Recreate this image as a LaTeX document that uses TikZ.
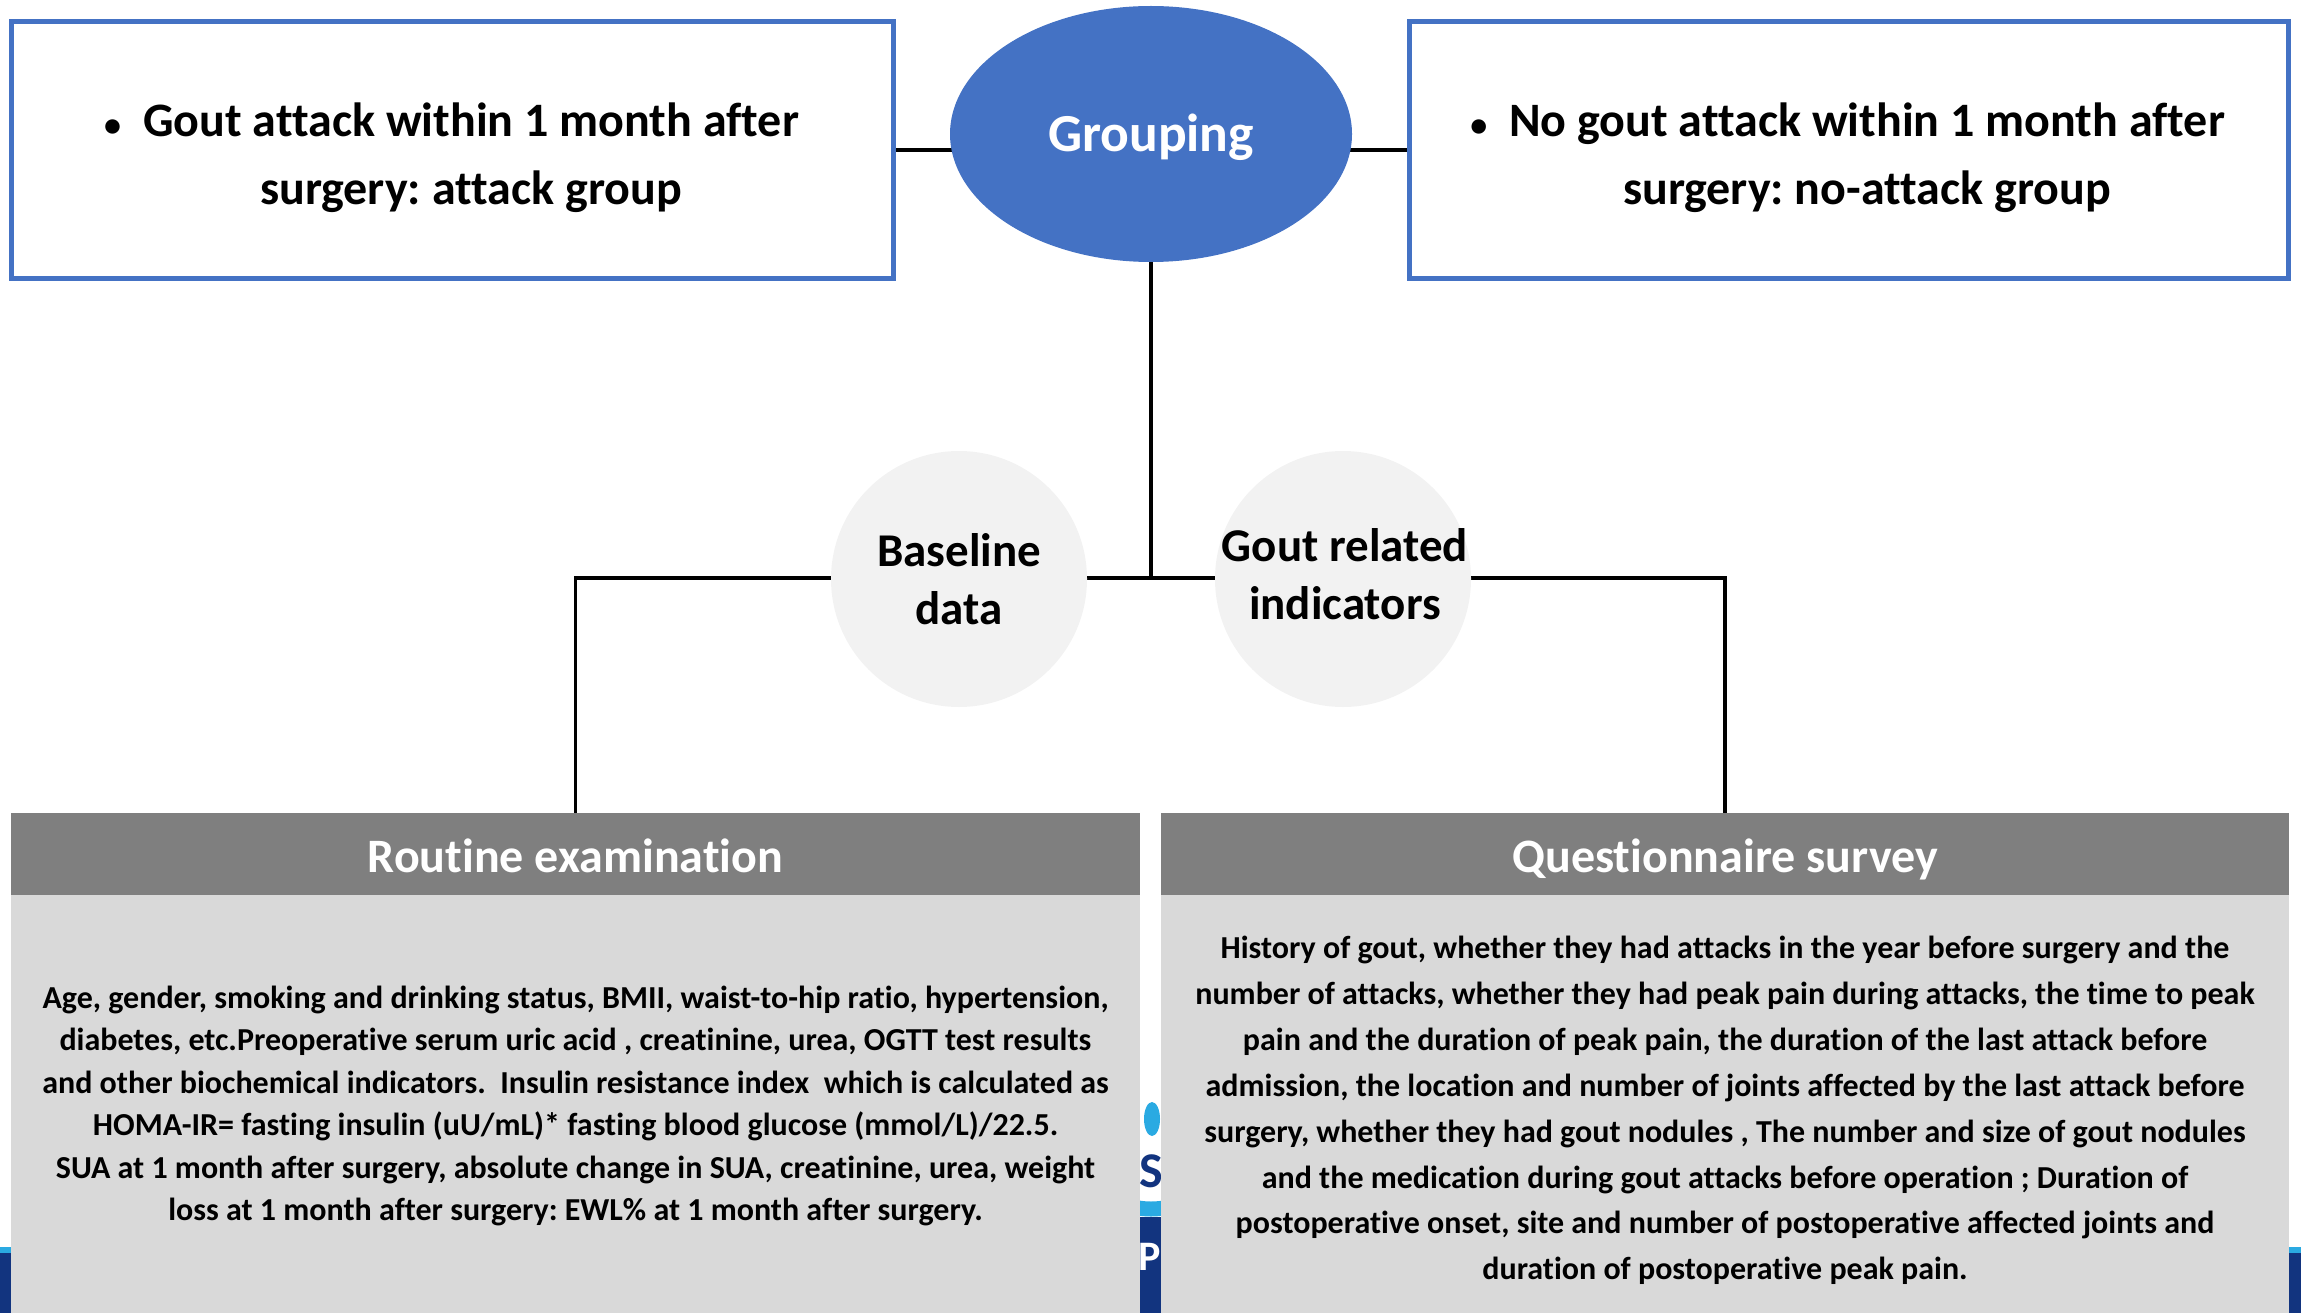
\documentclass[tikz,border=0pt]{standalone}
\usepackage{fontspec}
\setmainfont{Carlito}[Ligatures={NoCommon}]
\usetikzlibrary{shapes.geometric,backgrounds}
\definecolor{accent}{HTML}{4472C4}
\definecolor{hdrgray}{HTML}{7F7F7F}
\definecolor{bodygray}{HTML}{D9D9D9}
\definecolor{circgray}{HTML}{F2F2F2}
\definecolor{logodark}{HTML}{12347F}
\definecolor{logolight}{HTML}{2AAAE2}
\newcommand{\smallbullet}{\llap{{\fontsize{34}{34}\selectfont •}\hspace{22pt}}}
\tikzset{
  groupbox/.style={draw=accent, line width=5pt, fill=white, rectangle, inner sep=0pt},
  boxtext/.style={font=\bfseries\fontsize{48}{68}\selectfont, align=center, inner sep=0pt},
  grp/.style={ellipse, fill=accent, inner sep=0pt, minimum width=402pt, minimum height=256pt,
    text=white, font=\bfseries\fontsize{53.5}{60}\selectfont, text height=40pt, text depth=4pt},
  catcircle/.style={circle, fill=circgray, inner sep=0pt, minimum size=256pt},
  cattext/.style={font=\bfseries\fontsize{47}{58}\selectfont, align=center, inner sep=0pt},
  hdr/.style={rectangle, fill=hdrgray, inner sep=0pt, minimum width=1129pt, minimum height=82pt,
    text=white, font=\bfseries\fontsize{48}{56}\selectfont, text height=36pt, text depth=0pt},
  panel/.style={rectangle, fill=bodygray, inner sep=0pt, minimum width=1129pt, minimum height=418pt},
  bodytextL/.style={font=\bfseries\fontsize{32}{42.4}\selectfont, align=center, inner sep=0pt},
  bodytextR/.style={font=\bfseries\fontsize{32}{45.9}\selectfont, align=center, inner sep=0pt},
  conn/.style={draw=black, line width=3.8pt},
}
\begin{document}
\frenchspacing
\begin{tikzpicture}[x=1pt,y=-1pt]
\useasboundingbox (0,0) rectangle (2301,1313);

% background slide decorations (partly hidden)
\fill[logolight] (0,1247) rectangle (11,1253);
\fill[logodark] (0,1253) rectangle (11,1313);
\fill[logolight] (2289,1247) rectangle (2301,1253);
\fill[logodark] (2289,1253) rectangle (2301,1313);
\begin{scope}
  \clip (1140,1080) rectangle (1161,1313);
  \fill[logolight] (1152,1119) ellipse [x radius=8, y radius=17];
  \node[text=logodark, font=\bfseries\fontsize{50}{50}\selectfont, anchor=base, inner sep=0pt] (logoS) at (1151,1187) {S};
  \draw[logolight, line width=15pt] (1151,1129) circle [radius=80];
  \fill[logodark] (1130,1217) rectangle (1170,1313);
  \node[text=white, font=\bfseries\fontsize{42}{42}\selectfont, anchor=base, inner sep=0pt] (logoP) at (1150,1270) {P};
\end{scope}

% top row
\node[groupbox, minimum width=882pt, minimum height=257pt] (attack) at (452.5,150) {};
\node[boxtext] (attacktext) at (471,158) {\smallbullet Gout attack within 1 month after\\surgery: attack group};
\node[groupbox, minimum width=879pt, minimum height=257pt] (noattack) at (1849,150) {};
\node[boxtext] (noattacktext) at (1867,158) {\smallbullet No gout attack within 1 month after\\surgery: no-attack group};
\node[grp] (grouping) at (1151,134) {Grouping};

% bottom panels
\node[hdr] (routinehdr) at (575.5,854) {Routine examination};
\node[panel, anchor=north] (routinebody) at (routinehdr.south) {};
\node[bodytextL] (routinetext) at (575.5,1106) {Age, gender, smoking and drinking status, BMII, waist-to-hip ratio, hypertension,\\
diabetes, etc.Preoperative serum uric acid , creatinine, urea, OGTT test results\\
and other biochemical indicators.\ \ Insulin resistance index\ \ which is calculated as\\
HOMA-IR= fasting insulin (uU/mL)* fasting blood glucose (mmol/L)/22.5.\\
SUA at 1 month after surgery, absolute change in SUA, creatinine, urea, weight\\
loss at 1 month after surgery: EWL\% at 1 month after surgery.};

\node[hdr, minimum width=1128pt] (questhdr) at (1725,854) {Questionnaire survey};
\node[panel, minimum width=1128pt, anchor=north] (questbody) at (questhdr.south) {};
\node[bodytextR] (questtext) at (1725,1110.5) {History of gout, whether they had attacks in the year before surgery and the\\
number of attacks, whether they had peak pain during attacks, the time to peak\\
pain and the duration of peak pain, the duration of the last attack before\\
admission, the location and number of joints affected by the last attack before\\
surgery, whether they had gout nodules , The number and size of gout nodules\\
and the medication during gout attacks before operation ; Duration of\\
postoperative onset, site and number of postoperative affected joints and\\
duration of postoperative peak pain.};

% category circles
\coordinate (hub) at (1151,578);
\node[catcircle] (baseline) at (959,579) {};
\node[cattext] (baselinetext) at (959,579) {Baseline\\data};
\node[catcircle] (goutrel) at (1343,579) {};
\node[cattext] (goutreltext) at (1345,574) {Gout related\\indicators};

% connectors
\begin{pgfonlayer}{background}
  \draw[conn] (attack.east) -- (attack.east -| grouping.center) -- (noattack.west);
  \draw[conn] (grouping.center) -- (hub);
  \draw[conn] (routinehdr.north) -- (routinehdr.north |- hub) -- (questhdr.north |- hub) -- (questhdr.north);
\end{pgfonlayer}
\end{tikzpicture}
\end{document}
